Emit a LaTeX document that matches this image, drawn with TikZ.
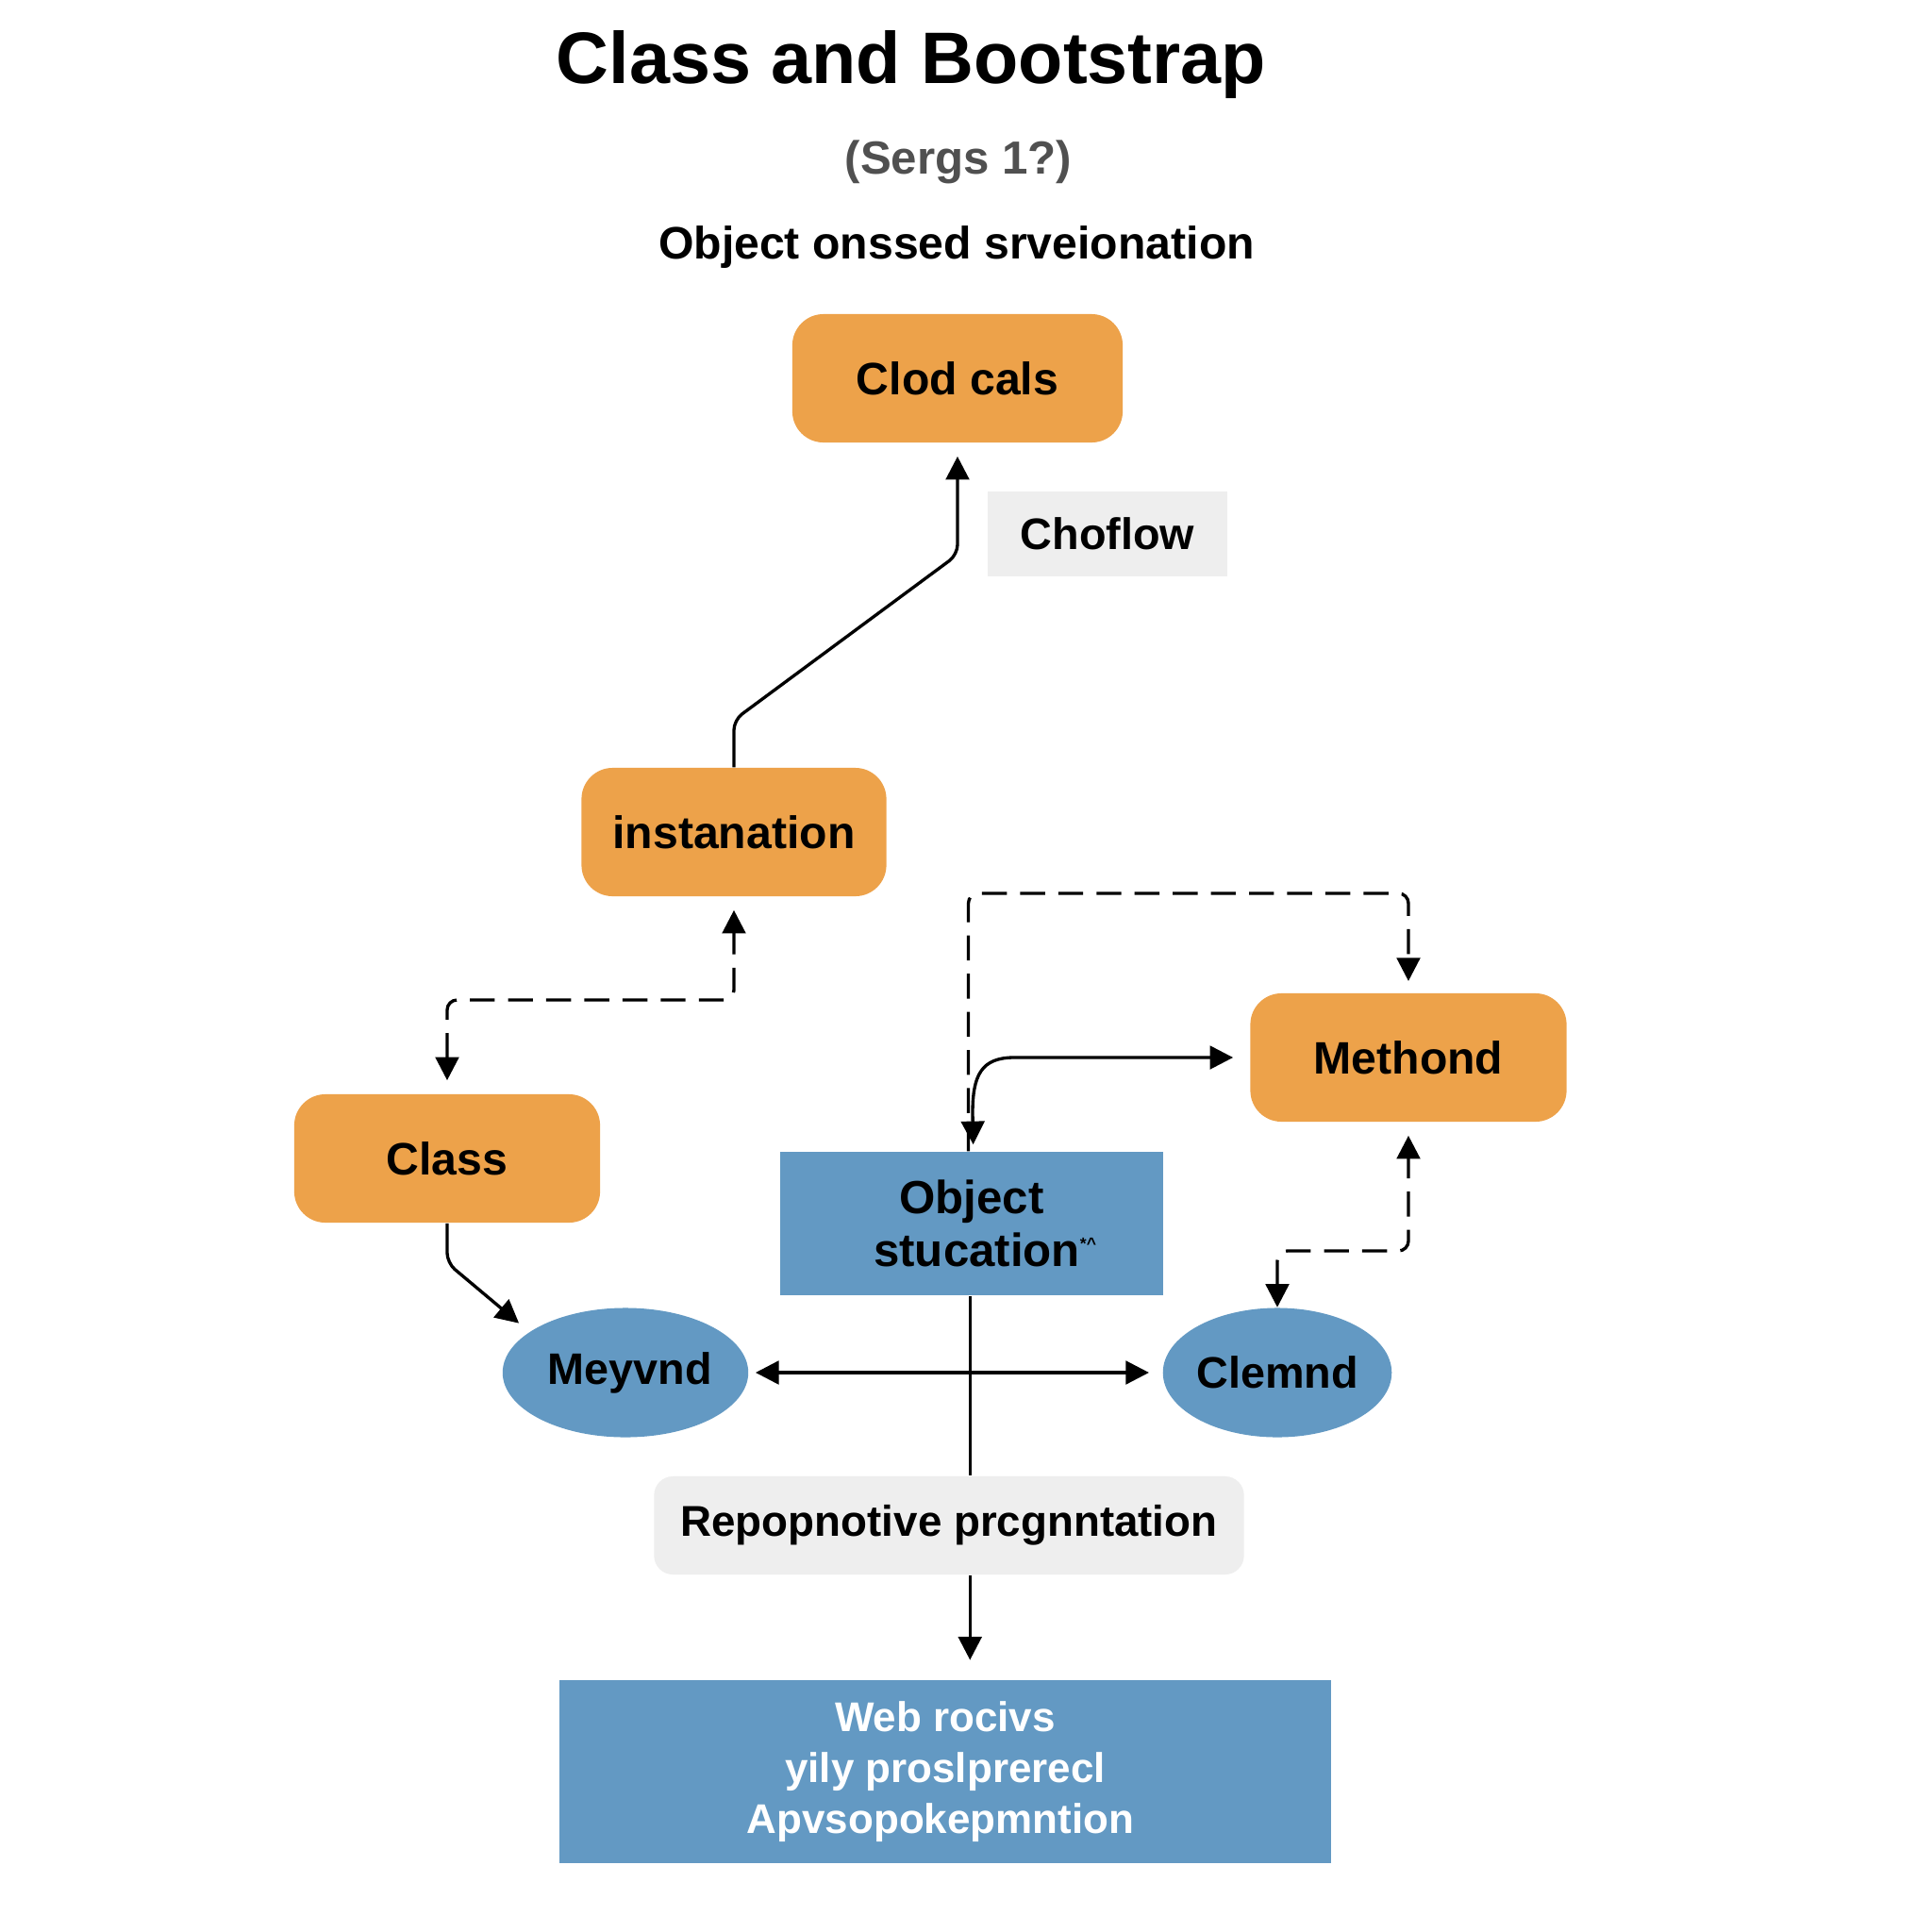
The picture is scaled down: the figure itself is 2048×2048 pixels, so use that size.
\documentclass[tikz,border=0pt]{standalone}
\usepackage{fontspec}
\setmainfont{Liberation Sans}
\usetikzlibrary{arrows.meta,positioning,shapes.geometric}

\definecolor{boxorange}{HTML}{EDA24A}
\definecolor{boxblue}{HTML}{6399C3}
\definecolor{boxgray}{HTML}{EEEEEE}
\definecolor{subgray}{HTML}{505050}

\tikzset{
  orangebox/.style={rectangle, rounded corners=0.33cm, fill=boxorange, minimum height=1.36cm,
    inner sep=0pt, font=\bfseries\fontsize{13.7}{16}\selectfont},
  bluebox/.style={rectangle, fill=boxblue, inner sep=0pt, align=center},
  blueoval/.style={ellipse, fill=boxblue, minimum height=1.37cm, inner sep=0pt,
    font=\bfseries\fontsize{13.3}{16}\selectfont},
  graybox/.style={rectangle, fill=boxgray, inner sep=0pt, font=\bfseries\fontsize{13.3}{16}\selectfont},
  tip/.tip={Triangle[length=7pt,width=7pt]},
  arr/.style={line width=0.95pt, -tip},
  dasharr/.style={arr, dash pattern=on 7.5pt off 4pt, rounded corners=3pt},
}

\begin{document}
\begin{tikzpicture}[x=0.01cm, y=0.01cm]
    % Page frame
    \fill[white] (0,0) rectangle (2048,-2048);
    \useasboundingbox (0,0) rectangle (2048,-2048);

    % Titles
    \node[font=\bfseries\fontsize{22}{26}\selectfont] (title) at (966,-68) {Class and Bootstrap};
    \node[font=\bfseries\fontsize{14}{17}\selectfont, text=subgray] (sub) at (1016,-172) {(Sergs 1?)};
    \node[font=\bfseries\fontsize{13.7}{17}\selectfont] (subb) at (1014,-262) {Object onssed srveionation};

    % Boxes
    \node[orangebox, minimum width=3.5cm] (clod) at (1015,-401) {Clod cals};
    \node[graybox, minimum width=2.54cm, minimum height=0.89cm] (choflow) at (1174,-566) {Choflow};
    \node[orangebox, minimum width=3.23cm] (inst) at (778,-882) {instanation};
    \node[orangebox, minimum width=3.24cm] (cls) at (474,-1228) {Class};
    \node[orangebox, minimum width=3.35cm] (meth) at (1493,-1121) {Methond};
    \node[bluebox, minimum width=4.05cm, minimum height=1.52cm,
      font=\bfseries\fontsize{14}{16}\selectfont] (obj) at (1030,-1297)
      {Object\\\hspace*{0.3cm}stucation\textsuperscript{\tiny*\textasciicircum}};

    % Ovals
    \node[blueoval, minimum width=2.53cm] (mey) at (663,-1455) {\hspace*{0.1cm}Meyvnd};
    \node[blueoval, minimum width=2.41cm] (clem) at (1354,-1455) {Clemnd};

    % Lower boxes
    \node[graybox, rounded corners=0.2cm, minimum width=6.25cm, minimum height=1.04cm,
      font=\bfseries\fontsize{13}{16}\selectfont] (rep) at (1006,-1617)
      {Repopnotive prcgnntation};
    \node[bluebox, minimum width=8.18cm, minimum height=1.93cm, text=white,
      font=\bfseries\fontsize{12.5}{15.4}\selectfont] (web) at (1002,-1878)
      {Web rocivs\\yily proslprerecl\\Apvsopokepmntion\hspace*{0.1cm}};

    % Connectors
    \draw[arr, rounded corners=3pt, shorten >=4pt] (inst.north) -- ++(0,50) -- (clod.south |- 0,-588) -- (clod.south);
    \draw[dasharr, tip-tip, shorten <=4pt, shorten >=4pt]
      (cls.north) -- (cls.north |- 0,-1060) -- (inst.south |- 0,-1060) -- (inst.south);
    \draw[arr, rounded corners=3pt, shorten >=4pt] (cls.south) -- ++(0,-42) -- (mey.157);
    \draw[arr, tip-tip, shorten <=2pt, shorten >=4pt] (mey.east) -- (clem.west);
    \draw[line width=0.95pt] ([xshift=-0.5pt]obj.south) -- ([xshift=-0.5pt]obj.south |- rep.north);
    \draw[arr, shorten >=6pt] ([xshift=-0.5pt]obj.south |- rep.south) -- ([xshift=-0.5pt]obj.south |- web.north);
    \draw[dasharr, shorten >=3.5pt] ([xshift=-1pt]obj.north) -- ([xshift=-1pt]obj.north |- 0,-947)
      -- (meth.north |- 0,-947) -- (meth.north);
    \draw[arr, tip-tip, shorten <=2pt, shorten >=5pt]
      ([xshift=0.5pt]obj.north) -- (1031,-1180) .. controls (1031,-1140) and (1040,-1121) .. (1075,-1121) -- (meth.west);
    \draw[dasharr, tip-tip, shorten >=4pt]
      (clem.north) -- (clem.north |- 0,-1326) -- (meth.south |- 0,-1326) -- (meth.south);

\end{tikzpicture}
\end{document}
